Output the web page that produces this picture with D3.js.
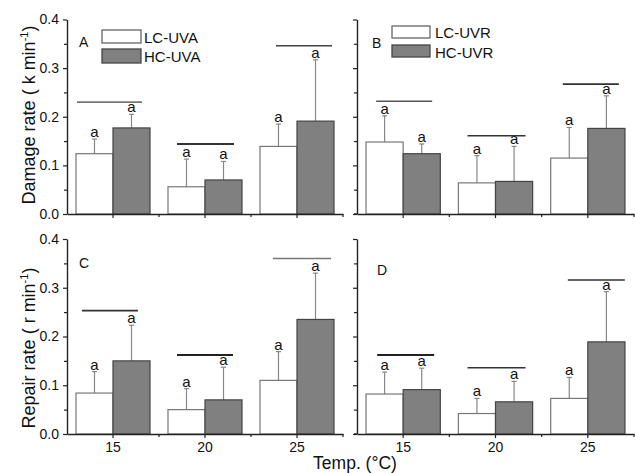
<!DOCTYPE html>
<html><head><meta charset="utf-8">
<script src="https://cdn.jsdelivr.net/npm/d3@7"></script>
<style>
body{margin:0;background:#fff;}
text{font-family:"Liberation Sans",Arial,sans-serif;fill:#111;}
</style></head>
<body><svg id="c" width="635" height="473"></svg>
<script>
// ---- data ----
const categories = ["15", "20", "25"];
const yTicks = [0, 0.1, 0.2, 0.3, 0.4];
const yMinorTicks = [0.05, 0.15, 0.25, 0.35];
// Panel A: damage, UVA
const A_LC = [0.124, 0.056, 0.139], A_LC_err = [0.030, 0.057, 0.046];
const A_HC = [0.177, 0.070, 0.191], A_HC_err = [0.028, 0.038, 0.126];
const A_sig = [0.230, 0.144, 0.346];
// Panel B: damage, UVR
const B_LC = [0.148, 0.064, 0.115], B_LC_err = [0.054, 0.056, 0.063];
const B_HC = [0.124, 0.067, 0.176], B_HC_err = [0.020, 0.072, 0.067];
const B_sig = [0.232, 0.161, 0.267];
// Panel C: repair, UVA
const C_LC = [0.084, 0.050, 0.110], C_LC_err = [0.044, 0.043, 0.059];
const C_HC = [0.150, 0.070, 0.235], C_HC_err = [0.073, 0.067, 0.095];
const C_sig = [0.253, 0.162, 0.360];
// Panel D: repair, UVR
const D_LC = [0.082, 0.042, 0.073], D_LC_err = [0.045, 0.031, 0.043];
const D_HC = [0.091, 0.066, 0.189], D_HC_err = [0.044, 0.042, 0.103];
const D_sig = [0.162, 0.136, 0.316];
const sigLetters = ["a", "a", "a"];

// ---- layout ----
const svg = d3.select("#c");
const cols = [[67, 343], [357, 634]];
const rows = [[214, 19.5], [434, 239]];
const panels = [
  {id:"A", col:0, row:0, lc:A_LC, lcE:A_LC_err, hc:A_HC, hcE:A_HC_err, sig:A_sig, letter:[79,46.5],
   legend:{names:["LC-UVA","HC-UVA"], x:102, y:[30,49], w:39, h:[13,14], tx:144, ty:[42.5,62]},
   sigOff:[[-36,29],[-28,29],[-21,35]], sigStyle:[["#777",1.6],["#333",2],["#444",1.6]]},
  {id:"B", col:1, row:0, lc:B_LC, lcE:B_LC_err, hc:B_HC, hcE:B_HC_err, sig:B_sig, letter:[372,48],
   legend:{names:["LC-UVR","HC-UVR"], x:392, y:[26,45], w:38, h:[12,12], tx:435, ty:[37.5,57.5]},
   sigOff:[[-27,29],[-28,30],[-25,31]], sigStyle:[["#555",1.4],["#333",1.6],["#333",1.6]]},
  {id:"C", col:0, row:1, lc:C_LC, lcE:C_LC_err, hc:C_HC, hcE:C_HC_err, sig:C_sig, letter:[79,268],
   sigOff:[[-31,25],[-28,28],[-24,34]], sigStyle:[["#333",1.6],["#222",2],["#777",1.6]]},
  {id:"D", col:1, row:1, lc:D_LC, lcE:D_LC_err, hc:D_HC, hcE:D_HC_err, sig:D_sig, letter:[377,275],
   sigOff:[[-26,31],[-28,30],[-20,37]], sigStyle:[["#222",2],["#333",1.6],["#333",1.6]]}
];

panels.forEach(p => {
  const [x0, x1] = cols[p.col];
  const x = d3.scaleBand().domain(categories).range([x0, x1]).paddingInner(0).paddingOuter(0);
  const sub = d3.scaleBand().domain(["LC","HC"]).range([0, x.bandwidth()]).paddingInner(0).paddingOuter(0.243);
  const y = d3.scaleLinear().domain([0, 0.4]).range(rows[p.row]);
  const g = svg.append("g");
  const series = [
    {key:"LC", v:p.lc, e:p.lcE, fill:"#fff", stroke:"#777"},
    {key:"HC", v:p.hc, e:p.hcE, fill:"#808080", stroke:"#444"}
  ];
  series.forEach(s => {
    categories.forEach((c, i) => {
      const bx = x(c) + sub(s.key), bw = sub.bandwidth();
      const cx = bx + bw / 2;
      const top = y(s.v[i] + s.e[i]);
      g.append("line").attr("x1", cx).attr("x2", cx).attr("y1", y(s.v[i])).attr("y2", top)
        .attr("stroke", "#888").attr("stroke-width", 1.2);
      g.append("line").attr("x1", cx - 2.5).attr("x2", cx + 2.5).attr("y1", top).attr("y2", top)
        .attr("stroke", "#888").attr("stroke-width", 1.2);
      g.append("rect").attr("x", bx).attr("y", y(s.v[i])).attr("width", bw)
        .attr("height", y(0) - y(s.v[i])).attr("fill", s.fill).attr("stroke", s.stroke).attr("stroke-width", 1.2);
      g.append("text").attr("x", cx).attr("y", top - 2).attr("text-anchor", "middle")
        .attr("font-size", 15).text(sigLetters[i]);
    });
  });
  categories.forEach((c, i) => {
    const cx = x(c) + x.bandwidth() / 2;
    g.append("line").attr("x1", cx + p.sigOff[i][0]).attr("x2", cx + p.sigOff[i][1])
      .attr("y1", y(p.sig[i])).attr("y2", y(p.sig[i]))
      .attr("stroke", p.sigStyle[i][0]).attr("stroke-width", p.sigStyle[i][1]);
  });
  const yAxis = d3.axisLeft(y).tickValues(yTicks).tickSize(4).tickSizeOuter(0)
    .tickFormat(p.col === 0 ? d3.format(".1f") : () => "");
  const ya = g.append("g").attr("transform", `translate(${x0},0)`).call(yAxis);
  const yMinor = d3.axisLeft(y).tickValues(yMinorTicks).tickSize(3).tickSizeOuter(0).tickFormat(() => "");
  const ym = g.append("g").attr("transform", `translate(${x0},0)`).call(yMinor);
  ym.select(".domain").remove();
  const xAxis = d3.axisBottom(x).tickSize(4).tickSizeOuter(0).tickFormat(p.row === 1 ? d => d : () => "");
  const xa = g.append("g").attr("transform", `translate(0,${y(0)})`).call(xAxis);
  categories.slice(1).concat(["end"]).forEach(c => {
    const bx = c === "end" ? x1 : x(c);
    xa.append("line").attr("x1", bx).attr("x2", bx).attr("y1", 0).attr("y2", 3)
      .attr("stroke", "#222").attr("stroke-width", 1.2);
  });
  if (p.col === 1) {
    xa.append("line").attr("x1", x0 - 3).attr("x2", x0).attr("y1", 0).attr("y2", 0)
      .attr("stroke", "#222").attr("stroke-width", 1.4);
  }
  [ya, ym, xa].forEach(a => {
    a.selectAll(".domain").attr("stroke", "#222").attr("stroke-width", 1.4);
    a.selectAll(".tick line").attr("stroke", "#222").attr("stroke-width", 1.2);
    a.selectAll(".tick text").attr("font-size", 14).attr("fill", "#111")
      .style("font-family", '"Liberation Sans",Arial,sans-serif');
  });
  ya.selectAll(".tick text").attr("dx", "-1");
  xa.selectAll(".tick text").attr("y", 18).attr("dy", "0");
  g.append("text").attr("x", p.letter[0]).attr("y", p.letter[1]).attr("font-size", 14).text(p.id);
  if (p.legend) {
    const L = p.legend;
    [0, 1].forEach(k => {
      g.append("rect").attr("x", L.x).attr("y", L.y[k]).attr("width", L.w).attr("height", L.h[k])
        .attr("fill", series[k].fill).attr("stroke", k ? "#444" : "#666").attr("stroke-width", 1.3);
      g.append("text").attr("x", L.tx).attr("y", L.ty[k]).attr("font-size", 15).text(L.names[k]);
    });
  }
});

function yTitle(cx, cy, main) {
  const t = svg.append("text").attr("transform", `translate(${cx},${cy}) rotate(-90)`)
    .attr("text-anchor", "middle").attr("font-size", 18);
  t.append("tspan").text(main);
  t.append("tspan").attr("font-size", 11).attr("dy", -7).text("-1");
  t.append("tspan").attr("dy", 7).text(")");
}
yTitle(35, 115, "Damage rate ( k min");
yTitle(35, 348, "Repair rate ( r min");
svg.append("text").attr("x", 355).attr("y", 469).attr("text-anchor", "middle").attr("font-size", 17.5).text("Temp. (°C)");
</script></body></html>
